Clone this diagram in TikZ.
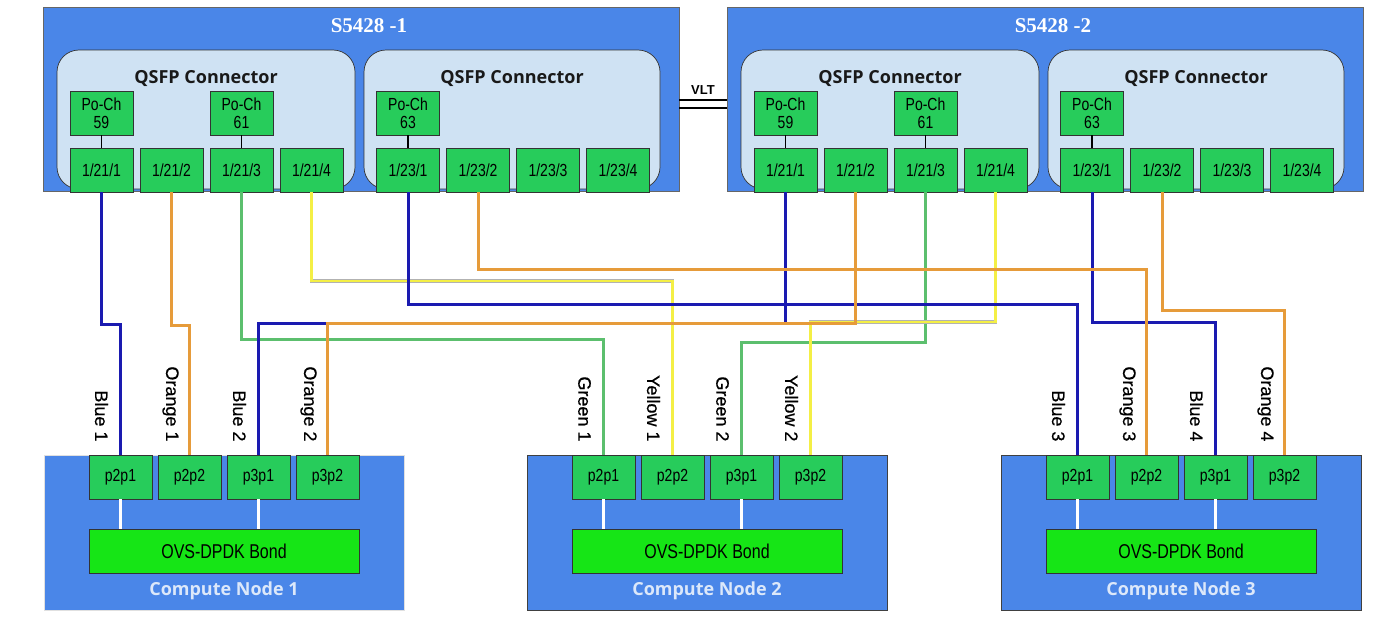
\documentclass[tikz,border=0pt]{standalone}
\usepackage{fontspec}
\usepackage{xcolor}
\usepackage{tikz}
\usetikzlibrary{calc}
\setmainfont{Liberation Sans}
\newfontfamily\portfont{Liberation Sans}[FakeStretch=0.8]
\newfontfamily\labfont{Liberation Sans}[FakeBold=0.6]
\newfontfamily\headfont{Open Sans}
\newfontfamily\titlefont{Liberation Serif}

\definecolor{swblue}{HTML}{4A86E8}
\definecolor{qsfpfill}{HTML}{CFE2F3}
\definecolor{portgreen}{HTML}{27CC5B}
\definecolor{bondgreen}{HTML}{16E516}
\definecolor{cntext}{HTML}{DCE8FA}
\definecolor{cblue}{HTML}{1A1AB0}
\definecolor{corange}{HTML}{E69B3A}
\definecolor{cgreen}{HTML}{5CBF6E}
\definecolor{cyellow}{HTML}{F4EF45}

\tikzset{
  switchbox/.style={draw=black!60, fill=swblue, line width=0.6pt, minimum width=636pt, minimum height=184pt, inner sep=0pt},
  qsfpbox/.style={draw=black!80, fill=qsfpfill, line width=0.7pt, rounded corners=22pt, minimum height=139pt, inner sep=0pt},
  portbox/.style={draw=black!80, fill=portgreen, line width=0.7pt, minimum width=63pt, minimum height=44pt, inner sep=0pt, align=center, font=\portfont\fontsize{17.5}{18}\selectfont},
  bondbox/.style={draw=black!80, fill=bondgreen, line width=0.7pt, minimum width=270pt, minimum height=44pt, inner sep=0pt, font=\portfont\fontsize{20}{22}\selectfont},
  cnbox/.style={fill=swblue, line width=0.8pt, minimum width=360pt, minimum height=155pt, inner sep=0pt},
  swtitle/.style={text=white, font=\titlefont\bfseries\fontsize{21}{24}\selectfont},
  qsfptitle/.style={text=black!90, font=\headfont\bfseries\fontsize{18}{20}\selectfont},
  cntitle/.style={text=cntext, font=\headfont\bfseries\fontsize{18}{20}\selectfont},
  cablabel/.style={rotate=-90, anchor=east, inner sep=0pt, font=\labfont\fontsize{18}{20}\selectfont},
  cab/.style={line width=3pt},
  bluecable/.style={cab, draw=cblue},
  orangecable/.style={cab, draw=corange},
  greencable/.style={cab, draw=cgreen},
  yellowcable/.style={draw=black!30, double=cyellow, double distance=2.6pt, line width=0.5pt},
  pcline/.style={line width=1.8pt, black},
  bondlink/.style={line width=3pt, white},
  vltline/.style={line width=2pt, black}
}

\begin{document}
\begin{tikzpicture}[x=1pt, y=-1pt]
\useasboundingbox (0,0) rectangle (1381,629);

% switches
\foreach \s/\ox in {1/0, 2/684}{
  \node[switchbox] (sw\s) at (361+\ox,99) {};
  \node[swtitle] (sw\s-t) at (369+\ox,26) {S5428 -\s};
  \node[qsfpbox, minimum width=298pt] (sw\s-qa) at (206+\ox,119.5) {};
  \node[qsfpbox, minimum width=296pt] (sw\s-qb) at (512+\ox,119.5) {};
  \node[qsfptitle] (sw\s-qat) at (206+\ox,79) {QSFP Connector};
  \node[qsfptitle] (sw\s-qbt) at (512+\ox,79) {QSFP Connector};
  \foreach \i in {1,...,4}{
    \node[portbox] (sw\s-21-\i) at ({31.5+70*\i+\ox},170) {1/21/\i};
    \node[portbox] (sw\s-23-\i) at ({338+70*\i+\ox},170) {1/23/\i};
  }
  \node[portbox] (sw\s-pc59) at (101.5+\ox,113) {Po-Ch\\59};
  \node[portbox] (sw\s-pc61) at (241.5+\ox,113) {Po-Ch\\61};
  \node[portbox] (sw\s-pc63) at (408+\ox,113) {Po-Ch\\63};
  \draw[pcline] (sw\s-pc59) -- (sw\s-21-1);
  \draw[pcline] (sw\s-pc61) -- (sw\s-21-3);
  \draw[pcline] (sw\s-pc63) -- (sw\s-23-1);
}

% VLT
\node[font=\bfseries\fontsize{13}{14}\selectfont] (vlt) at (703,90) {VLT};
\draw[vltline] (sw1.east |- 0,100) -- (sw2.west |- 0,100);
\draw[vltline] (sw1.east |- 0,108) -- (sw2.west |- 0,108);

% compute nodes
\foreach \c/\cx/\bd in {1/44/black!12, 2/527/black!75, 3/1001/black!75}{
  \node[cnbox, draw=\bd] (cn\c) at (\cx+180,532.5) {};
  \foreach [count=\i] \p in {p2p1,p2p2,p3p1,p3p2}
    \node[portbox] (cn\c-\i) at ({\cx+7.5+69*\i},477) {\p};
  \node[bondbox] (cn\c-b) at (\cx+180,551) {OVS-DPDK Bond};
  \node[cntitle] (cn\c-t) at (\cx+180,591) {Compute Node \c};
  \draw[bondlink] (cn\c-1.south) -- (cn\c-1.south |- cn\c-b.north);
  \draw[bondlink] (cn\c-3.south) -- (cn\c-3.south |- cn\c-b.north);
}

% cables
\foreach \from/\to/\yy/\col/\txt in {
  sw1-21-3/cn2-1/339/greencable/Green 1,
  sw2-21-3/cn2-3/342/greencable/Green 2,
  sw1-21-4/cn2-2/281/yellowcable/Yellow 1,
  sw2-21-4/cn2-4/322/yellowcable/Yellow 2,
  sw1-21-1/cn1-1/324/bluecable/Blue 1,
  sw2-21-1/cn1-3/323/bluecable/Blue 2,
  sw1-23-1/cn3-1/304/bluecable/Blue 3,
  sw2-23-1/cn3-3/322.5/bluecable/Blue 4,
  sw1-21-2/cn1-2/325/orangecable/Orange 1,
  sw2-21-2/cn1-4/323/orangecable/Orange 2,
  sw1-23-2/cn3-2/269/orangecable/Orange 3,
  sw2-23-2/cn3-4/310/orangecable/Orange 4}{
  \draw[\col] (\from.south) -- (\from.south |- 0,\yy) -| (\to.north);
  \node[cablabel] (lab-\to) at ($(\to.north)+(-19,-13)$) {\txt};
}
\end{tikzpicture}
\end{document}
